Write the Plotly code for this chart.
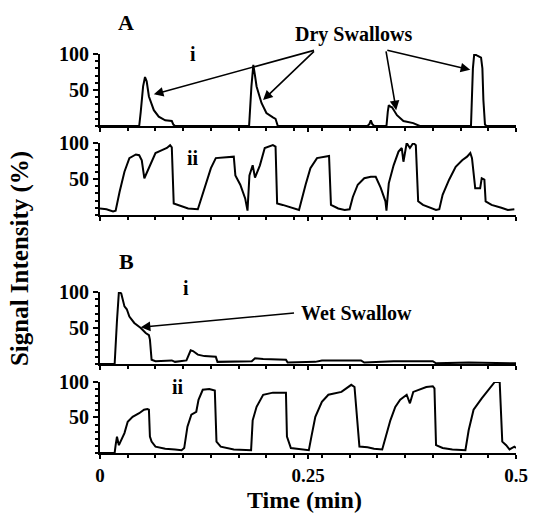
import plotly.graph_objects as go

# ---- data (time in min, signal intensity in %) ----
t_a1 = [0.0, 0.0471, 0.0490, 0.0518, 0.0541, 0.0561, 0.0588, 0.0647, 0.0706, 0.0784, 0.0863, 0.0882, 0.0902,
        0.1765, 0.1792, 0.1820, 0.1843, 0.1863, 0.1882, 0.1941, 0.2000, 0.2078, 0.2110, 0.2137,
        0.3216, 0.3239, 0.3255, 0.3271, 0.3294,
        0.3420, 0.3443, 0.3459, 0.3471, 0.3490, 0.3510, 0.3569, 0.3647, 0.3765, 0.3843,
        0.4431, 0.4459, 0.4482, 0.4498, 0.4529, 0.4580, 0.4596, 0.4608, 0.4627, 0.4647, 0.5]
v_a1 = [0, 0, 20, 55, 68, 62, 41, 22, 13, 8, 7, 2, 0,
        0, 0, 55, 85, 70, 55, 32, 18, 12, 10, 0,
        0, 3, 8, 3, 0,
        0, 0, 20, 29, 27, 26, 15, 7, 4, 0,
        0, 0, 80, 100, 98, 95, 80, 36, 2, 0, 0]

t_a2 = [0.0, 0.0078, 0.0157, 0.0188, 0.0235, 0.0294, 0.0353, 0.0431, 0.0471, 0.0502, 0.0533, 0.0549, 0.0608,
        0.0667, 0.0745, 0.0804, 0.0843, 0.0863, 0.0886, 0.0941, 0.1059, 0.1176, 0.1216, 0.1275, 0.1333,
        0.1392, 0.1490, 0.1608, 0.1627, 0.1686, 0.1745, 0.1773, 0.1796, 0.1835, 0.1863, 0.1922, 0.1980,
        0.2078, 0.2110, 0.2129, 0.2196, 0.2353, 0.2392, 0.2471, 0.2529, 0.2608, 0.2686, 0.2753, 0.2776,
        0.2863, 0.2941, 0.3000, 0.3039, 0.3098, 0.3176, 0.3255, 0.3314, 0.3373, 0.3431, 0.3443, 0.3471,
        0.3529, 0.3588, 0.3627, 0.3647, 0.3686, 0.3725, 0.3765, 0.3796, 0.3824, 0.3882, 0.4039, 0.4078,
        0.4118, 0.4196, 0.4275, 0.4353, 0.4412, 0.4451, 0.4471, 0.4510, 0.4569, 0.4588, 0.4620, 0.4635,
        0.4706, 0.4824, 0.4902, 0.4980]
v_a2 = [9, 8, 5, 6, 32, 60, 79, 84, 83, 76, 51, 55, 72,
        86, 90, 93, 97, 94, 16, 14, 9, 8, 23, 44, 65,
        79, 80, 81, 55, 42, 23, 6, 55, 69, 52, 69, 93,
        97, 95, 16, 14, 8, 7, 42, 65, 79, 81, 82, 14,
        9, 7, 8, 25, 42, 51, 53, 53, 38, 19, 6, 44,
        69, 88, 93, 74, 100, 93, 100, 97, 19, 14, 7, 8,
        28, 49, 67, 76, 81, 86, 79, 37, 37, 51, 49, 19,
        14, 10, 7, 8]

t_b1 = [0.0, 0.0176, 0.0204, 0.0227, 0.0255, 0.0294, 0.0322, 0.0353, 0.0412, 0.0490, 0.0549, 0.0588,
        0.0600, 0.0620, 0.0667, 0.0863, 0.0902, 0.1039, 0.1090, 0.1118, 0.1176, 0.1255, 0.1392, 0.1412,
        0.1824, 0.1863, 0.1961, 0.2235, 0.2255, 0.2588, 0.2667, 0.3137, 0.3176, 0.3529, 0.4000, 0.4039,
        0.4431, 0.4824, 0.5]
v_b1 = [0, 0, 60, 100, 98, 80, 76, 66, 57, 50, 43, 40,
        34, 6, 4, 5, 3, 5, 19, 18, 13, 11, 10, 3,
        4, 8, 7, 6, 2, 3, 5, 5, 2, 4, 4, 1,
        2, 2, 1]

t_b2 = [0.0, 0.0176, 0.0188, 0.0204, 0.0227, 0.0255, 0.0294, 0.0333, 0.0392, 0.0471, 0.0529, 0.0569,
        0.0588, 0.0600, 0.0620, 0.0667, 0.0784, 0.0902, 0.0980, 0.1012, 0.1051, 0.1098, 0.1157, 0.1184,
        0.1235, 0.1314, 0.1380, 0.1400, 0.1451, 0.1608, 0.1816, 0.1835, 0.1882, 0.1961, 0.2078, 0.2235,
        0.2247, 0.2294, 0.2510, 0.2541, 0.2588, 0.2667, 0.2745, 0.2902, 0.3020, 0.3059, 0.3118, 0.3216,
        0.3294, 0.3392, 0.3431, 0.3490, 0.3549, 0.3608, 0.3686, 0.3725, 0.3765, 0.3922, 0.4000, 0.4020,
        0.4039, 0.4118, 0.4235, 0.4392, 0.4431, 0.4490, 0.4588, 0.4667, 0.4745, 0.4804, 0.4835, 0.4882,
        0.4922, 0.4980, 0.5]
v_b2 = [0, 0, 11, 23, 11, 18, 28, 44, 51, 56, 61, 62,
        61, 23, 16, 9, 6, 5, 4, 7, 37, 54, 58, 75,
        89, 90, 88, 16, 9, 5, 4, 46, 65, 82, 85, 85,
        23, 7, 4, 23, 51, 72, 82, 86, 96, 93, 9, 8,
        6, 5, 21, 46, 65, 75, 82, 70, 86, 93, 94, 91,
        11, 7, 5, 4, 32, 61, 77, 89, 100, 100, 16, 11,
        5, 9, 7]

x_tickvals = [0, 0.25, 0.5]
x_ticktext = ["0", "0.25", "0.5"]
y_tickvals = [50, 100]
y_ticktext = ["50", "100"]

panels = [(t_a1, v_a1), (t_a2, v_a2), (t_b1, v_b1), (t_b2, v_b2)]

# ---- layout geometry ----
W, H = 540, 514
ML, MR, MT, MB = 100, 13, 54, 61
PW, PH = W - ML - MR, H - MT - MB
domains = [[0.8195, 1.0], [0.5965, 0.777], [0.223, 0.4035], [0.0, 0.178]]


def px(x):
    return (x - ML) / PW


def py(y):
    return (H - MB - y) / PH


FONT = "Liberation Serif, Times New Roman, serif"


def bold(s):
    return dict(family=FONT, size=s, color="black", weight="bold")


fig = go.Figure()
for i, (tt, vv) in enumerate(panels, start=1):
    sfx = "" if i == 1 else str(i)
    fig.add_trace(go.Scatter(x=tt, y=vv, mode="lines",
                             line=dict(color="black", width=2),
                             xaxis="x" + sfx, yaxis="y" + sfx,
                             showlegend=False, hoverinfo="skip"))
    fig.update_layout(**{
        "xaxis" + sfx: dict(domain=[0, 1], range=[0, 0.5], anchor="y" + sfx,
                            showline=True, linecolor="black", linewidth=2,
                            showgrid=False, zeroline=False,
                            tickvals=x_tickvals, ticktext=x_ticktext,
                            ticks="outside", ticklen=4, tickwidth=1.5, tickcolor="black",
                            minor=dict(dtick=1 / 30, tick0=0, ticks="outside", ticklen=3,
                                       tickwidth=1.5, tickcolor="black", showgrid=False),
                            showticklabels=(i == 4),
                            tickfont=bold(19)),
        "yaxis" + sfx: dict(domain=domains[i - 1], range=[0, 100], anchor="x" + sfx,
                            showline=True, linecolor="black", linewidth=2,
                            showgrid=False, zeroline=False,
                            tickvals=y_tickvals, ticktext=y_ticktext,
                            ticks="outside", ticklen=5, tickwidth=1.5, tickcolor="black",
                            minor=dict(dtick=10, tick0=0, ticks="outside", ticklen=3,
                                       tickwidth=1.5, tickcolor="black", showgrid=False),
                            tickfont=bold(20)),
    })


def label(text, x, y, size, **kw):
    d = dict(text=text, xref="paper", yref="paper", x=px(x), y=py(y), xanchor="center",
             yanchor="middle", showarrow=False, font=bold(size))
    d.update(kw)
    return d


ann = [
    label("A", 127, 22, 22),
    label("B", 127, 261, 22),
    label("i", 195, 54, 20),
    label("ii", 195, 158, 20),
    label("i", 188, 288, 20),
    label("ii", 180, 387, 20),
    label("Dry Swallows", 360, 35, 20),
    label("Wet Swallow", 363, 313, 20),
    label("Signal Intensity (%)", 18, 259, 25, textangle=-90),
    label("Time (min)", 310, 500, 24),
]

arrow = dict(showarrow=True, arrowhead=2, arrowsize=1.2, arrowwidth=1.6, arrowcolor="black",
             text="", standoff=0, axref="x", ayref="y", xref="x", yref="y")
for hx, hy, tx in [(0.0647, 44, 0.259), (0.196, 36, 0.259), (0.356, 22, 0.3435), (0.445, 78, 0.3435)]:
    a = dict(arrow)
    a.update(x=hx, y=hy, ax=tx, ay=105.6)
    ann.append(a)
a = dict(arrow)
a.update(xref="x3", yref="y3", axref="x3", ayref="y3", x=0.049, y=51, ax=0.235, ay=71)
ann.append(a)

fig.update_layout(width=W, height=H, margin=dict(l=ML, r=MR, t=MT, b=MB),
                  paper_bgcolor="white", plot_bgcolor="white", annotations=ann)

fig.write_html("out.html")
